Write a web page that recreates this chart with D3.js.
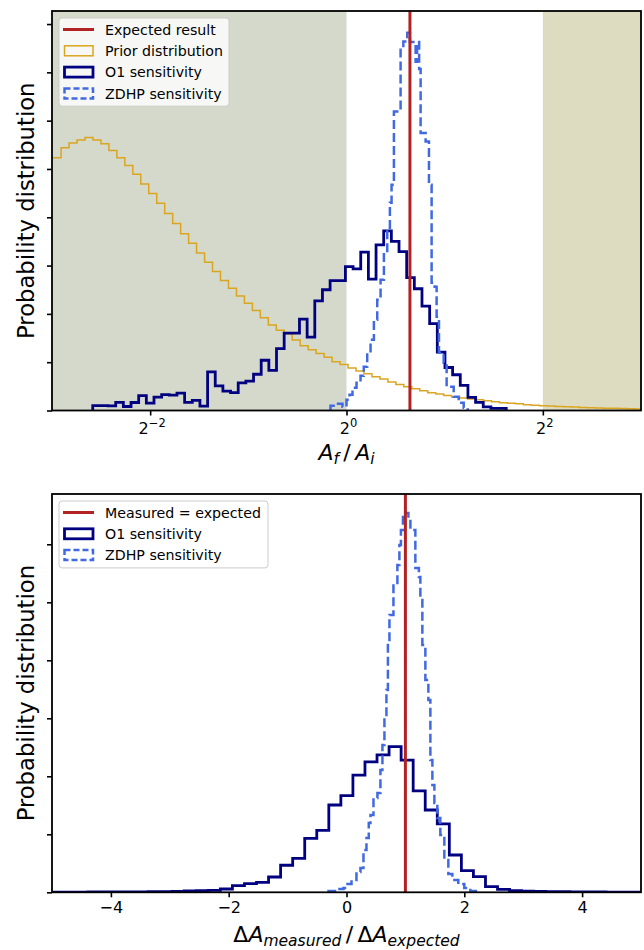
<!DOCTYPE html>
<html>
<head>
<meta charset="utf-8">
<script src="https://cdn.jsdelivr.net/npm/d3@7"></script>
<style>
  body { margin: 0; background: #fff; }
  text { font-family: "DejaVu Sans", sans-serif; fill: #000; }
</style>
</head>
<body>
<div id="chart"></div>
<script>
// ---- data ----
// top panel: x is A_f/A_i on a log2 axis, bins given in log2 units
const expectedRatio = 1.565;
const topXTicks = [-2, 0, 2]; // exponents of 2

const priorStart = -3.07, priorWidth = 0.0812;
const priorValues = [
  5.23, 5.23, 5.44, 5.54, 5.60, 5.65, 5.60, 5.52, 5.38, 5.23,
  5.07, 4.89, 4.69, 4.49, 4.29, 4.08, 3.87, 3.66, 3.46, 3.26,
  3.07, 2.88, 2.69, 2.53, 2.37, 2.22, 2.07, 1.92, 1.77, 1.66,
  1.59, 1.46, 1.34, 1.26, 1.18, 1.10, 1.01, 0.95, 0.88, 0.82,
  0.76, 0.70, 0.65, 0.59, 0.54, 0.49, 0.45, 0.41, 0.37, 0.34,
  0.31, 0.28, 0.26, 0.24, 0.22, 0.20, 0.18, 0.16, 0.15, 0.14,
  0.12, 0.11, 0.10, 0.093, 0.085, 0.077, 0.070, 0.064, 0.058, 0.052,
  0.048, 0.044, 0.039, 0.035, 0.031
];

const o1TopStart = -2.585, o1TopWidth = 0.078;
const o1TopValues = [
  0.10, 0.10, 0.097, 0.17, 0.083, 0.166, 0.31, 0.153, 0.277, 0.33,
  0.32, 0.36, 0.17, 0.21, 0.09, 0.80, 0.51, 0.40, 0.37, 0.57,
  0.61, 0.75, 1.04, 0.83, 1.28, 1.60, 1.60, 1.89, 1.52, 2.27,
  2.50, 2.69, 2.69, 2.98, 2.93, 3.28, 2.72, 3.43, 3.72, 3.50,
  3.29, 2.75, 2.52, 2.16, 1.80, 1.21, 0.89, 0.74, 0.52, 0.27,
  0.17, 0.075, 0.045, 0.045
];

const zdhpTopEdges = [
  -0.163, -0.102, -0.041, 0, 0.031, 0.061, 0.102, 0.143, 0.176, 0.211,
  0.245, 0.279, 0.313, 0.347, 0.381, 0.415, 0.442, 0.459, 0.483, 0.551,
  0.579, 0.619, 0.646, 0.681, 0.704, 0.719, 0.740, 0.755, 0.806, 0.840,
  0.867, 0.898, 0.918, 0.942, 0.990, 1.020, 1.092, 1.143, 1.194, 1.235
];
const zdhpTopValues = [
  0.097, 0.139, 0.077, 0.222, 0.325, 0.47, 0.573, 0.718, 0.905, 1.195,
  1.464, 1.878, 2.292, 2.706, 3.265, 3.741, 4.30, 4.673, 6.19, 7.468,
  7.64, 7.82, 7.63, 7.57, 7.22, 7.63, 7.07, 5.743, 5.569, 4.673,
  2.644, 2.561, 1.94, 1.195, 0.988, 0.491, 0.284, 0.159, 0.056
];

// bottom panel: x is dA_measured / dA_expected
const measuredEqExpected = 1;
const bottomXTicks = [-4, -2, 0, 2, 4];

const o1BotStart = -5.006, o1BotWidth = 0.2046;
const o1BotValues = [
  0.003, 0.003, 0.004, 0.005, 0.005, 0.006, 0.007, 0.009, 0.010, 0.013,
  0.017, 0.022, 0.028, 0.034, 0.057, 0.114, 0.148, 0.172, 0.264, 0.466,
  0.586, 0.931, 1.069, 1.505, 1.666, 2.02, 2.25, 2.37, 2.51, 2.28,
  1.747, 1.419, 1.178, 0.643, 0.372, 0.269, 0.097, 0.052, 0.028, 0.020,
  0.015, 0.012, 0.010, 0.008, 0.006, 0.005, 0.004, 0.003, 0.003
];

const zdhpBotEdges = [
  -0.305, -0.169, -0.051, 0.017, 0.085, 0.169, 0.237, 0.288, 0.339, 0.378,
  0.407, 0.458, 0.525, 0.576, 0.610, 0.644, 0.678, 0.703, 0.729, 0.797,
  0.864, 0.898, 0.924, 0.958, 1.051, 1.085, 1.169, 1.229, 1.254, 1.288,
  1.339, 1.390, 1.424, 1.458, 1.492, 1.542, 1.593, 1.661, 1.729, 1.797,
  1.898, 2.0, 2.102, 2.237
];
const zdhpBotValues = [
  0.022, 0.057, 0.074, 0.143, 0.212, 0.35, 0.419, 0.729, 0.936, 1.195,
  1.333, 1.626, 1.712, 2.109, 2.54, 3.057, 3.488, 4.35, 4.781, 5.333,
  5.643, 5.988, 6.247, 6.54, 6.453, 6.247, 5.591, 5.436, 5.04, 4.264,
  3.66, 3.316, 2.281, 1.85, 1.54, 1.281, 0.988, 0.557, 0.316, 0.212,
  0.143, 0.074, 0.022
];

// ---- chart ----
const C = {
  red: "#b22222",
  navy: "#000080",
  blue: "#4169e1",
  prior: "#daa520",
  shadeLeft: "#d4d9cc",
  shadeRight: "#dedcc0"
};

const svg = d3.select("#chart").append("svg")
  .attr("width", 644)
  .attr("height", 950);

function edgesFrom(start, width, n) {
  return d3.range(n + 1).map((i) => start + i * width);
}

// step outline like matplotlib histtype="step"
function stepPoints(edges, values) {
  const pts = [[edges[0], 0]];
  values.forEach((v, i) => pts.push([edges[i], v]));
  pts.push([edges[edges.length - 1], values[values.length - 1]]);
  pts.push([edges[edges.length - 1], 0]);
  return pts;
}

function drawPanel(cfg) {
  const { box, y, yTicks, id } = cfg;
  const g = svg.append("g");

  g.append("clipPath").attr("id", id)
    .append("rect")
    .attr("x", box.left).attr("y", box.top)
    .attr("width", box.right - box.left)
    .attr("height", box.bottom - box.top);

  const plot = g.append("g").attr("clip-path", `url(#${id})`);

  // y ticks (no labels)
  g.append("g")
    .attr("transform", `translate(${box.left},0)`)
    .call(d3.axisLeft(y).tickValues(yTicks).tickSize(5).tickFormat(""))
    .call((a) => a.select(".domain").remove())
    .call((a) => a.selectAll("line").attr("stroke", "#000").attr("stroke-width", 1.6));

  return { g, plot };
}

function drawSteps(plot, pts, xf, y, color, width, dash) {
  const line = d3.line()
    .x((d) => xf(d[0]))
    .y((d) => y(d[1]))
    .curve(d3.curveStepAfter);
  plot.append("path")
    .attr("d", line(pts))
    .attr("fill", "none")
    .attr("stroke", color)
    .attr("stroke-width", width)
    .attr("stroke-linejoin", "miter")
    .attr("stroke-dasharray", dash || null);
}

function drawSpines(g, box) {
  g.append("rect")
    .attr("x", box.left).attr("y", box.top)
    .attr("width", box.right - box.left)
    .attr("height", box.bottom - box.top)
    .attr("fill", "none")
    .attr("stroke", "#000")
    .attr("stroke-width", 1.8);
}

function drawLegend(g, x0, y0, w, items) {
  const rowH = 21.3;
  const h = items.length * rowH + 3;
  g.append("rect")
    .attr("x", x0).attr("y", y0)
    .attr("width", w).attr("height", h)
    .attr("rx", 3)
    .attr("fill", "#fff").attr("fill-opacity", 0.8)
    .attr("stroke", "#cccccc").attr("stroke-width", 1);
  items.forEach((it, i) => {
    const cy = y0 + 11.5 + i * rowH;
    if (it.kind === "line") {
      g.append("line")
        .attr("x1", x0 + 4).attr("x2", x0 + 35)
        .attr("y1", cy).attr("y2", cy)
        .attr("stroke", it.color).attr("stroke-width", 3);
    } else {
      g.append("rect")
        .attr("x", x0 + 5.5).attr("y", cy - 5)
        .attr("width", 28.5).attr("height", 10)
        .attr("fill", "none")
        .attr("stroke", it.color)
        .attr("stroke-width", it.width)
        .attr("stroke-dasharray", it.dash || null);
    }
    g.append("text")
      .attr("x", x0 + 46).attr("y", cy)
      .attr("dy", "0.36em")
      .style("font-size", "14.2px")
      .text(it.label);
  });
}

function yLabel(g, box) {
  g.append("text")
    .attr("transform", `translate(33.5,${(box.top + box.bottom) / 2}) rotate(-90)`)
    .attr("text-anchor", "middle")
    .style("font-size", "22.7px")
    .text("Probability distribution");
}

// ---------- top panel ----------
const topBox = { left: 52, right: 641, top: 11, bottom: 410.5 };
const xTop = d3.scaleLog().base(2).domain([1 / 8, 8]).range([topBox.left, topBox.right]);
const xl = (e) => xTop(Math.pow(2, e));
const yTop = d3.scaleLinear().domain([0, 8.27]).range([topBox.bottom, topBox.top]);

const topPanel = drawPanel({ box: topBox, y: yTop, yTicks: d3.range(0, 9), id: "clipTop" });

// shaded excluded regions
topPanel.plot.append("rect")
  .attr("x", xTop(1 / 8)).attr("y", topBox.top)
  .attr("width", xTop(1) - xTop(1 / 8)).attr("height", topBox.bottom - topBox.top)
  .attr("fill", C.shadeLeft);
topPanel.plot.append("rect")
  .attr("x", xTop(4)).attr("y", topBox.top)
  .attr("width", xTop(8) - xTop(4)).attr("height", topBox.bottom - topBox.top)
  .attr("fill", C.shadeRight);

drawSteps(topPanel.plot, stepPoints(edgesFrom(priorStart, priorWidth, priorValues.length), priorValues), xl, yTop, C.prior, 1.5);
drawSteps(topPanel.plot, stepPoints(edgesFrom(o1TopStart, o1TopWidth, o1TopValues.length), o1TopValues), xl, yTop, C.navy, 2.8);
drawSteps(topPanel.plot, stepPoints(zdhpTopEdges, zdhpTopValues), xl, yTop, C.blue, 2.5, "9,4");

topPanel.plot.append("line")
  .attr("x1", xTop(expectedRatio)).attr("x2", xTop(expectedRatio))
  .attr("y1", topBox.top).attr("y2", topBox.bottom)
  .attr("stroke", C.red).attr("stroke-width", 3);

// x ticks with 2^n labels
topPanel.g.append("g")
  .attr("transform", `translate(0,${topBox.bottom})`)
  .call(d3.axisBottom(xTop).tickValues(topXTicks.map((e) => Math.pow(2, e))).tickSize(5).tickFormat(""))
  .call((a) => a.select(".domain").remove())
  .call((a) => a.selectAll("line").attr("stroke", "#000").attr("stroke-width", 1.6));

topXTicks.forEach((e) => {
  const t = topPanel.g.append("text")
    .attr("x", xTop(Math.pow(2, e)) + 2)
    .attr("y", 433.5)
    .attr("text-anchor", "middle")
    .style("font-size", "16px");
  t.append("tspan").text("2");
  t.append("tspan")
    .attr("dy", -7)
    .style("font-size", "11.5px")
    .text(e < 0 ? "\u2212" + Math.abs(e) : String(e));
});

drawSpines(topPanel.g, topBox);

// x label  A_f / A_i
{
  const t = topPanel.g.append("text")
    .attr("x", (topBox.left + topBox.right) / 2)
    .attr("y", 460)
    .attr("text-anchor", "middle")
    .style("font-size", "22px");
  t.append("tspan").style("font-style", "italic").text("A");
  t.append("tspan").attr("dy", 4).style("font-style", "italic").style("font-size", "15.5px").text("f");
  t.append("tspan").attr("dy", -4).text("\u2009/\u2009");
  t.append("tspan").style("font-style", "italic").text("A");
  t.append("tspan").attr("dy", 4).style("font-style", "italic").style("font-size", "15.5px").text("i");
}

yLabel(topPanel.g, topBox);

drawLegend(topPanel.g, 59, 18, 170, [
  { kind: "line", color: C.red, label: "Expected result" },
  { kind: "rect", color: C.prior, width: 1.5, label: "Prior distribution" },
  { kind: "rect", color: C.navy, width: 2.8, label: "O1 sensitivity" },
  { kind: "rect", color: C.blue, width: 2.5, dash: "6,3", label: "ZDHP sensitivity" }
]);

// ---------- bottom panel ----------
const botBox = { left: 52, right: 641, top: 494, bottom: 892.3 };
const xBot = d3.scaleLinear().domain([-5, 5]).range([botBox.left, botBox.right]);
const yBot = d3.scaleLinear().domain([0, 6.867]).range([botBox.bottom, botBox.top]);

const botPanel = drawPanel({ box: botBox, y: yBot, yTicks: d3.range(0, 7), id: "clipBot" });

drawSteps(botPanel.plot, stepPoints(edgesFrom(o1BotStart, o1BotWidth, o1BotValues.length), o1BotValues), xBot, yBot, C.navy, 2.8);
drawSteps(botPanel.plot, stepPoints(zdhpBotEdges, zdhpBotValues), xBot, yBot, C.blue, 2.5, "9,4");

botPanel.plot.append("line")
  .attr("x1", xBot(measuredEqExpected)).attr("x2", xBot(measuredEqExpected))
  .attr("y1", botBox.top).attr("y2", botBox.bottom)
  .attr("stroke", C.red).attr("stroke-width", 3);

botPanel.g.append("g")
  .attr("transform", `translate(0,${botBox.bottom})`)
  .call(d3.axisBottom(xBot).tickValues(bottomXTicks).tickSize(5)
    .tickFormat((d) => (d < 0 ? "\u2212" + Math.abs(d) : String(d))))
  .call((a) => a.select(".domain").remove())
  .call((a) => a.selectAll("line").attr("stroke", "#000").attr("stroke-width", 1.6))
  .call((a) => a.selectAll("text")
    .attr("y", 9)
    .attr("fill", "#000")
    .style("font-family", "'DejaVu Sans', sans-serif")
    .style("font-size", "16px"));

drawSpines(botPanel.g, botBox);

// x label  ΔA_measured / ΔA_expected
{
  const t = botPanel.g.append("text")
    .attr("x", (botBox.left + botBox.right) / 2)
    .attr("y", 941.5)
    .attr("text-anchor", "middle")
    .style("font-size", "22px");
  t.append("tspan").text("\u0394");
  t.append("tspan").style("font-style", "italic").text("A");
  t.append("tspan").attr("dy", 4).style("font-style", "italic").style("font-size", "15.5px").text("measured");
  t.append("tspan").attr("dy", -4).text("\u2009/\u2009\u0394");
  t.append("tspan").style("font-style", "italic").text("A");
  t.append("tspan").attr("dy", 4).style("font-style", "italic").style("font-size", "15.5px").text("expected");
}

yLabel(botPanel.g, botBox);

drawLegend(botPanel.g, 59, 501, 209, [
  { kind: "line", color: C.red, label: "Measured = expected" },
  { kind: "rect", color: C.navy, width: 2.8, label: "O1 sensitivity" },
  { kind: "rect", color: C.blue, width: 2.5, dash: "6,3", label: "ZDHP sensitivity" }
]);
</script>
</body>
</html>
